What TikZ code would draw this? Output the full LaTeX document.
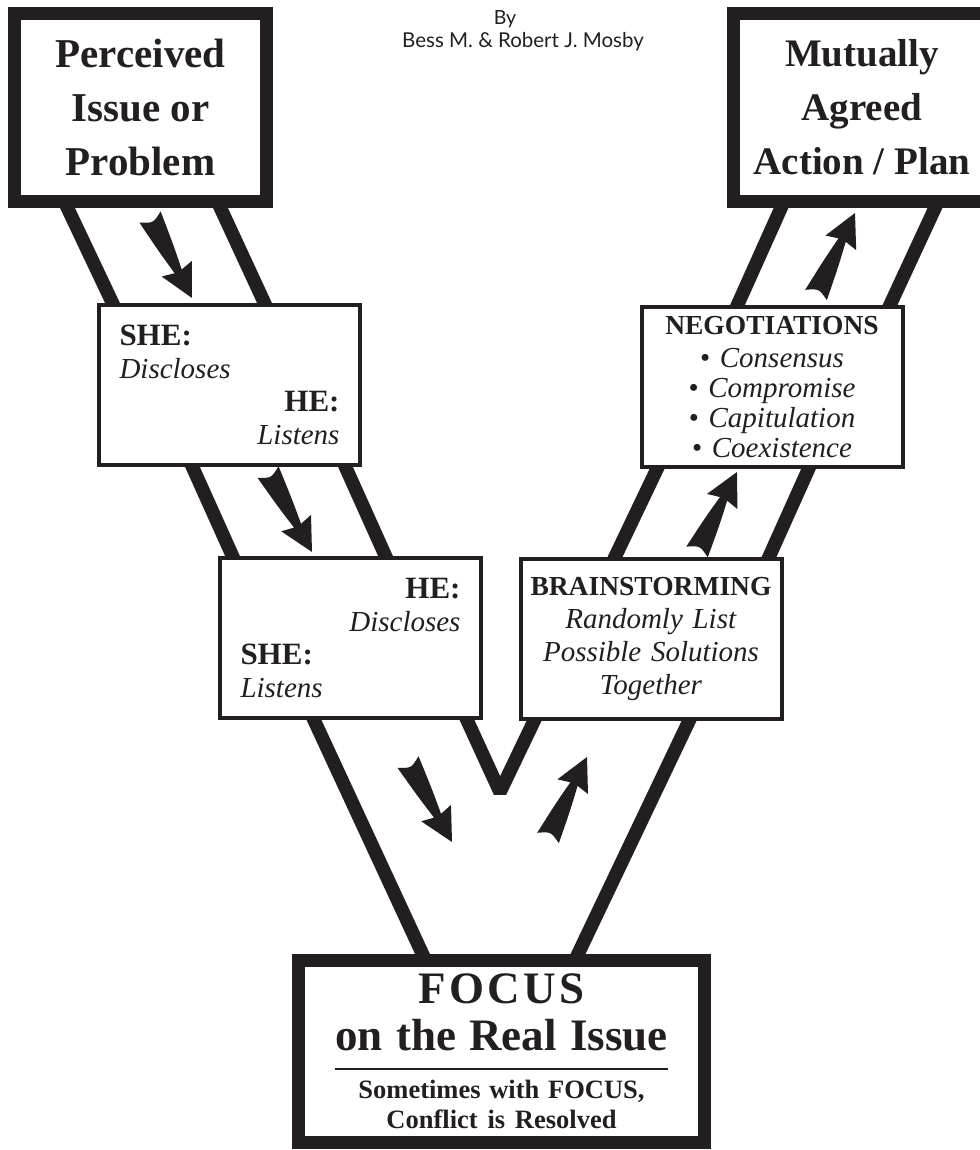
\documentclass[tikz,border=0pt]{standalone}
\usepackage{fontspec}
\newfontfamily\bylinefont{Lato}
\newfontfamily\pal{Liberation Serif}
\definecolor{ink}{RGB}{35,31,32}
\usetikzlibrary{calc,backgrounds}
\setlength{\parindent}{0pt}

% tapered dart, drawn along local x, length #1
\tikzset{
  pics/dart/.style={code={
    \fill[ink] (0,12) .. controls (35,8) .. ({#1-30},4) -- ({#1-33},17) -- (#1,0)
      -- ({#1-33},-17) -- ({#1-30},-4) .. controls (35,-8) .. (0,-12)
      .. controls (7,0) .. cycle;}}
}
\newcommand{\dartto}[2]{%
  \path let \p1=(#1), \p2=(#2),
    \n1={atan2(\y2-\y1,\x2-\x1)}, \n2={veclen(\x2-\x1,\y2-\y1)} in
    pic[rotate=\n1] at (\p1) {dart=\n2};}

\begin{document}
\begin{tikzpicture}[
  x=1pt, y=-1pt,
  every node/.style={text=ink},
  bigbox/.style={draw=ink,fill=white,line width=13pt,inner sep=0pt,align=center,
                 minimum width=252pt,minimum height=188pt,
                 font=\pal\bfseries\fontsize{41}{54}\selectfont},
  talkbox/.style={draw=ink,fill=white,line width=4pt,inner sep=0pt,
                  minimum width=261pt,minimum height=160pt,text width=220pt,
                  font=\pal\fontsize{29}{33}\selectfont},
  vbar/.style={draw=ink,line width=13.5pt,shorten <=-7pt,shorten >=-7pt},
]
  \useasboundingbox (0,0) rectangle (979,1150);

  % byline
  \node[font=\bylinefont\fontsize{19.5}{22}\selectfont,anchor=base] (by) at (505,25) {By};
  \node[font=\bylinefont\fontsize{20.5}{22}\selectfont,anchor=base] (authors) at (523,48)
    {Bess M. \& Robert J. Mosby};

  % Top boxes
  \node[bigbox] (issue) at (140.5,107.5) {Perceived\\Issue or\\Problem};
  \node[bigbox,minimum width=257pt,font=\pal\bfseries\fontsize{39}{54}\selectfont]
    (plan) at (862,107.5) {Mutually\\Agreed\\Action / Plan};

  % Left leg
  \node[talkbox,align=left] (she) at (229.5,385) {%
    {\fontsize{31}{33}\selectfont\bfseries SHE:}\\\textit{Discloses}\\
    \hfill{\fontsize{31}{33}\selectfont\bfseries HE:}\\\hfill\textit{Listens}};
  \node[talkbox,align=left] (he) at (350.5,638) {%
    \hfill{\fontsize{31}{33}\selectfont\bfseries HE:}\\\hfill\textit{Discloses}\\
    {\fontsize{31}{33}\selectfont\bfseries SHE:}\\\textit{Listens}};

  % Right leg
  \node[talkbox,align=center,text width=254pt] (brainstorm) at (651,639) {%
    {\fontsize{27.5}{33}\selectfont\bfseries BRAINSTORMING}\\\textit{Randomly List}\\
    \textit{Possible Solutions}\\\textit{Together}};
  \node[talkbox,align=center,text width=254pt,font=\pal\fontsize{29}{30}\selectfont]
    (negotiate) at (772,387) {%
    {\fontsize{27.5}{30}\selectfont\bfseries NEGOTIATIONS}\\[3pt]
    \textbullet~\textit{Consensus}\\\textbullet~\textit{Compromise}\\
    \textbullet~\textit{Capitulation}\\\textbullet~\textit{Coexistence}};

  % Bottom box
  \node[bigbox,minimum width=406pt,minimum height=182pt,text width=400pt,
        font=\pal\bfseries\fontsize{45}{47}\selectfont] (focus) at (501.5,1051.5) {%
    \spaceskip=0pt\relax
    {\addfontfeatures{LetterSpace=7}FOCUS}\\on the Real Issue\\[-28pt]
    \rule{333pt}{2pt}\\[-1pt]
    \fontsize{26.5}{30}\selectfont Sometimes with FOCUS,\\Conflict is Resolved\par};

  % V bars
  \begin{scope}[on background layer]
    \draw[vbar] ($(issue.south)+(-73,0)$) -- ($(she.north)+(-117,0)$);
    \draw[vbar] ($(issue.south)+(80,0)$) -- ($(she.north)+(35,0)$);
    \draw[vbar] ($(she.south)+(-37,0)$) -- ($(he.north)+(-118,0)$);
    \draw[vbar] ($(she.south)+(116,0)$) -- ($(he.north)+(35,0)$);
    \draw[vbar] ($(he.south)+(-36.5,0)$) -- ($(focus.north)+(-79,0)$);
    \draw[vbar,line join=bevel] ($(he.south)+(116.5,0)$) -- (500,792)
      -- ($(brainstorm.south)+(-117,0)$);
    \draw[vbar] ($(brainstorm.south)+(38,0)$) -- ($(focus.north)+(76.5,0)$);
    \draw[vbar] ($(brainstorm.north)+(-36,0)$) -- ($(negotiate.south)+(-115,0)$);
    \draw[vbar] ($(brainstorm.north)+(118,0)$) -- ($(negotiate.south)+(36.5,0)$);
    \draw[vbar] ($(negotiate.north)+(-34.5,0)$) -- ($(plan.south)+(-81,0)$);
    \draw[vbar] ($(negotiate.north)+(118,0)$) -- ($(plan.south)+(73,0)$);
  \end{scope}

  % darts
  \coordinate (d1s) at (150,217); \coordinate (d1e) at (192,298);
  \coordinate (d2s) at (268,472); \coordinate (d2e) at (312,552);
  \coordinate (d3s) at (408,762); \coordinate (d3e) at (452,842);
  \coordinate (d4s) at (548,838); \coordinate (d4e) at (587,757);
  \coordinate (d5s) at (697,552); \coordinate (d5e) at (737,472);
  \coordinate (d6s) at (816,295); \coordinate (d6e) at (855,213);
  \dartto{d1s}{d1e}
  \dartto{d2s}{d2e}
  \dartto{d3s}{d3e}
  \dartto{d4s}{d4e}
  \dartto{d5s}{d5e}
  \dartto{d6s}{d6e}
\end{tikzpicture}
\end{document}
